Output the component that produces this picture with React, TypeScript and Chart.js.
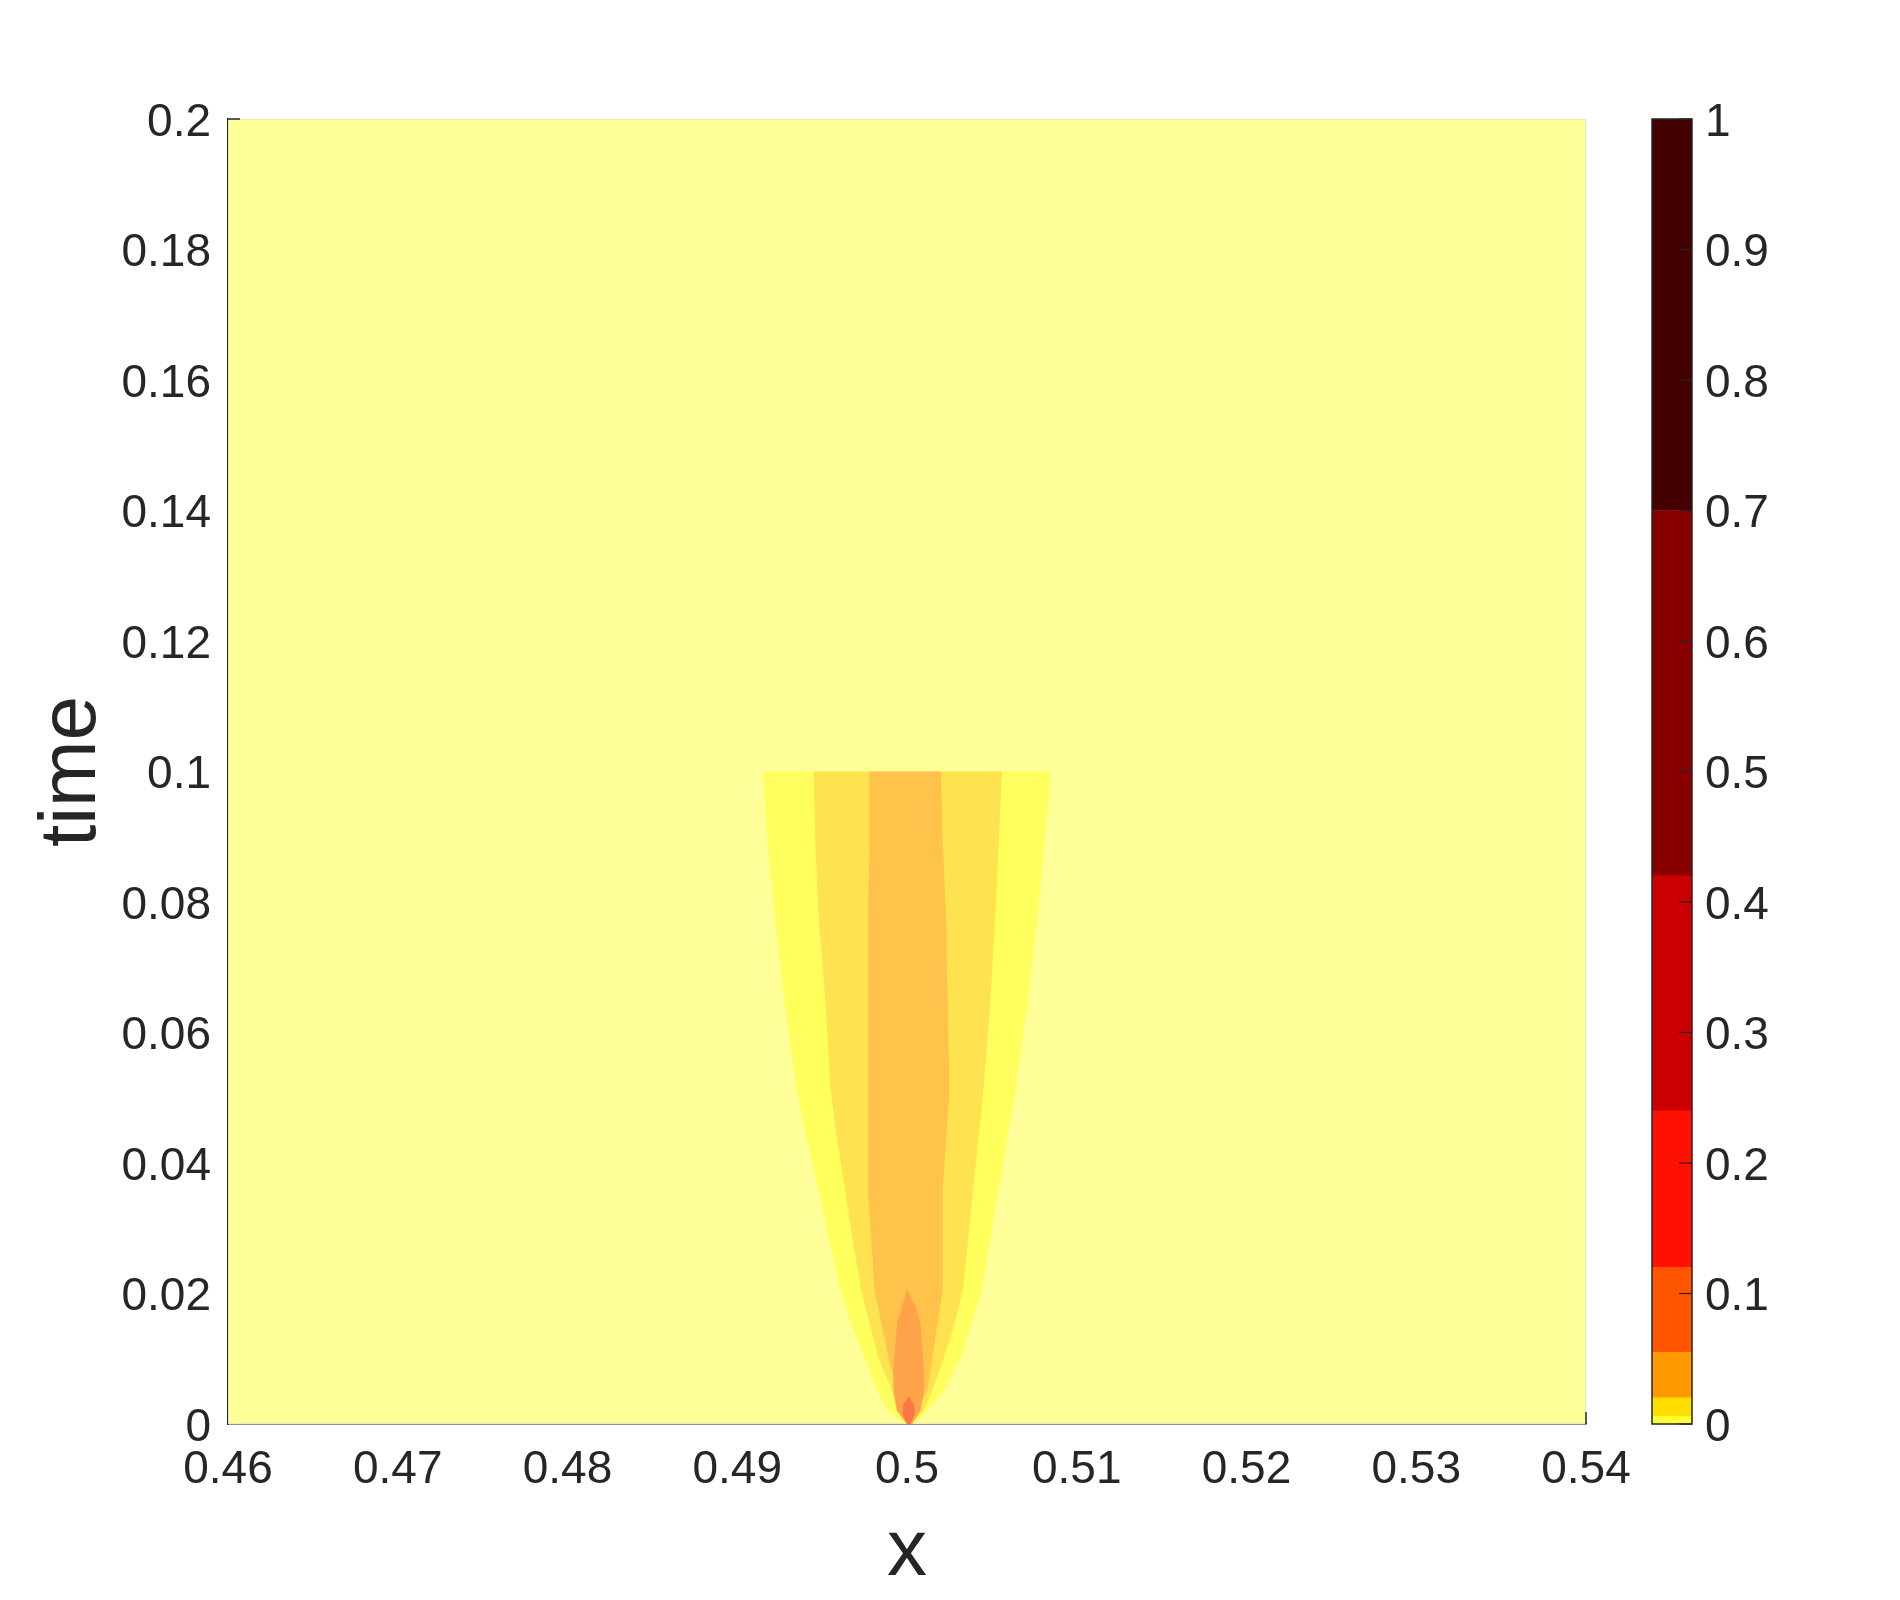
import React, { useEffect, useRef } from 'react';
import { Chart, registerables } from 'chart.js';

Chart.register(...registerables);

// ---------- data ----------
const domainX = [0.46, 0.54];
const domainT = [0, 0.2];

const xTickValues = [0.46, 0.47, 0.48, 0.49, 0.5, 0.51, 0.52, 0.53, 0.54];
const xTickLabels = ['0.46', '0.47', '0.48', '0.49', '0.5', '0.51', '0.52', '0.53', '0.54'];
const yTickValues = [0, 0.02, 0.04, 0.06, 0.08, 0.1, 0.12, 0.14, 0.16, 0.18, 0.2];
const yTickLabels = ['0', '0.02', '0.04', '0.06', '0.08', '0.1', '0.12', '0.14', '0.16', '0.18', '0.2'];

// contour band boundaries (x of left/right edge at each time)
const bandTimes = [0, 0.0006, 0.0021, 0.0052, 0.0103, 0.0154, 0.0205, 0.0282, 0.0359, 0.0435, 0.0512, 0.0645, 0.0778, 0.089, 0.1];

const level1Left = [0.5, 0.4996, 0.4989, 0.4982, 0.4975, 0.4967, 0.4961, 0.4954, 0.4948, 0.4941, 0.4935, 0.4928, 0.4922, 0.4918, 0.4915];
const level1Right = [0.5002, 0.5007, 0.5012, 0.5022, 0.5032, 0.5038, 0.5044, 0.5049, 0.5054, 0.5059, 0.5064, 0.5071, 0.5077, 0.5081, 0.5085];

const level2Left = [0.5, 0.4998, 0.4994, 0.4991, 0.4983, 0.4978, 0.4973, 0.4968, 0.49635, 0.4959, 0.4955, 0.4952, 0.4948, 0.4946, 0.4945];
const level2Right = [0.5001, 0.5004, 0.501, 0.5015, 0.5022, 0.5028, 0.5033, 0.5036, 0.5039, 0.5042, 0.5045, 0.5049, 0.5052, 0.5054, 0.5056];

const level3Left = [0.5, 0.4999, 0.4997, 0.4994, 0.4989, 0.4985, 0.4981, 0.4979, 0.4977, 0.4977, 0.4977, 0.4977, 0.4977, 0.4978, 0.4978];
const level3Right = [0.5001, 0.5003, 0.5006, 0.5012, 0.5015, 0.5018, 0.5021, 0.5021, 0.5021, 0.5023, 0.5025, 0.5024, 0.5023, 0.5021, 0.502];

const level4Times = [0, 0.0021, 0.0052, 0.0083, 0.0115, 0.0154, 0.018, 0.0205];
const level4Left = [0.5, 0.4994, 0.4992, 0.4992, 0.4993, 0.4994, 0.4997, 0.5];
const level4Right = [0.5003, 0.5008, 0.501, 0.501, 0.5009, 0.5008, 0.5005, 0.5];

const level5Times = [0, 0.0015, 0.003, 0.0042];
const level5Left = [0.5, 0.49975, 0.49978, 0.5001];
const level5Right = [0.5002, 0.50045, 0.5004, 0.5001];

const plotColors = ['#ffff99', '#ffff5e', '#ffe24f', '#ffc24a', '#ffa34a', '#ff7447'];

// colorbar
const cbLevels = [0, 0.0056, 0.02, 0.055, 0.12, 0.24, 0.42, 0.7, 1];
const cbColors = ['#ffff33', '#ffdd00', '#ff9900', '#ff5500', '#ff1100', '#cc0000', '#880000', '#440000'];
const cbTickValues = [0, 0.1, 0.2, 0.3, 0.4, 0.5, 0.6, 0.7, 0.8, 0.9, 1];
const cbTickLabels = ['0', '0.1', '0.2', '0.3', '0.4', '0.5', '0.6', '0.7', '0.8', '0.9', '1'];

const xTitle = 'x';
const yTitle = 'time';

// ---------- helpers ----------
const FONT = "'Liberation Sans', Arial, Helvetica, sans-serif";
const TEXT = '#262626';

function polygon(times: number[], left: number[], right: number[]) {
  const pts = times.map((t, i) => ({ x: left[i], y: t }));
  for (let i = times.length - 1; i >= 0; i--) pts.push({ x: right[i], y: times[i] });
  return pts;
}

function shapeDataset(data: { x: number; y: number }[], color: string, order: number, border?: string) {
  return {
    data,
    showLine: true,
    fill: 'shape',
    backgroundColor: color,
    borderColor: border || color,
    borderWidth: border ? 1.2 : 0,
    pointRadius: 0,
    pointHoverRadius: 0,
    tension: 0,
    order,
  };
}

// inward tick marks that show at the plot edges (top-left and bottom-right)
const edgeTicks = {
  id: 'edgeTicks',
  afterDraw(chart: any) {
    const { ctx, chartArea } = chart;
    const xs = chart.scales.x;
    const ys = chart.scales.y;
    ctx.save();
    ctx.strokeStyle = TEXT;
    ctx.lineWidth = 1.5;
    const yTop = ys.getPixelForValue(yTickValues[yTickValues.length - 1]);
    ctx.beginPath();
    ctx.moveTo(chartArea.left, yTop);
    ctx.lineTo(chartArea.left + 12, yTop);
    ctx.stroke();
    const xRight = xs.getPixelForValue(xTickValues[xTickValues.length - 1]);
    ctx.beginPath();
    ctx.moveTo(xRight, chartArea.bottom);
    ctx.lineTo(xRight, chartArea.bottom - 12);
    ctx.stroke();
    ctx.restore();
  },
};

export default function App() {
  const mainRef = useRef<HTMLCanvasElement | null>(null);
  const cbRef = useRef<HTMLCanvasElement | null>(null);

  useEffect(() => {
    const bg = [
      { x: domainX[0], y: domainT[0] },
      { x: domainX[1], y: domainT[0] },
      { x: domainX[1], y: domainT[1] },
      { x: domainX[0], y: domainT[1] },
      { x: domainX[0], y: domainT[0] },
    ];

    const main = new Chart(mainRef.current as HTMLCanvasElement, {
      type: 'scatter',
      data: {
        datasets: [
          shapeDataset(bg, plotColors[0], 10, '#d9d9c8'),
          shapeDataset(polygon(bandTimes, level1Left, level1Right), plotColors[1], 9),
          shapeDataset(polygon(bandTimes, level2Left, level2Right), plotColors[2], 8),
          shapeDataset(polygon(bandTimes, level3Left, level3Right), plotColors[3], 7),
          shapeDataset(polygon(level4Times, level4Left, level4Right), plotColors[4], 6),
          shapeDataset(polygon(level5Times, level5Left, level5Right), plotColors[5], 5),
        ] as any,
      },
      options: {
        animation: false,
        responsive: false,
        devicePixelRatio: 1,
        layout: { padding: { left: 0, top: 119, right: 314, bottom: 0 } },
        plugins: { legend: { display: false }, tooltip: { enabled: false } },
        events: [],
        scales: {
          x: {
            type: 'linear',
            min: domainX[0],
            max: domainX[1],
            z: 1,
            afterBuildTicks: (s: any) => {
              s.ticks = xTickValues.map((v) => ({ value: v }));
            },
            afterFit: (s: any) => {
              s.height = 176;
            },
            ticks: {
              callback: (_v: any, i: number) => xTickLabels[i],
              font: { family: FONT, size: 46 },
              color: TEXT,
              padding: 19,
              maxRotation: 0,
              autoSkip: false,
            },
            grid: { display: false, drawTicks: false },
            border: { display: true, color: TEXT, width: 1.5 },
            title: {
              display: true,
              text: xTitle,
              font: { family: FONT, size: 80, lineHeight: 1.0 },
              color: TEXT,
              padding: { top: 0, bottom: 7 },
            },
          },
          y: {
            type: 'linear',
            min: domainT[0],
            max: domainT[1],
            z: 1,
            afterBuildTicks: (s: any) => {
              s.ticks = yTickValues.map((v) => ({ value: v }));
            },
            afterFit: (s: any) => {
              s.width = 228;
            },
            ticks: {
              callback: (_v: any, i: number) => yTickLabels[i],
              font: { family: FONT, size: 46 },
              color: TEXT,
              padding: 17,
              labelOffset: 4,
              autoSkip: false,
            },
            grid: { display: false, drawTicks: false },
            border: { display: true, color: TEXT, width: 1.5 },
            title: {
              display: true,
              text: yTitle,
              font: { family: FONT, size: 80 },
              color: TEXT,
              padding: { top: 25, bottom: 0 },
            },
          },
        },
      } as any,
      plugins: [edgeTicks],
    });

    const cbOutline = {
      id: 'cbOutline',
      afterDraw(chart: any) {
        const { ctx, chartArea } = chart;
        const ys = chart.scales.y;
        ctx.save();
        ctx.strokeStyle = TEXT;
        ctx.lineWidth = 1.5;
        ctx.strokeRect(chartArea.left, chartArea.top, chartArea.right - chartArea.left, chartArea.bottom - chartArea.top);
        ctx.lineWidth = 1.2;
        ys.ticks.forEach((t: any) => {
          const y = ys.getPixelForValue(t.value);
          ctx.beginPath();
          ctx.moveTo(chartArea.right - 13, y);
          ctx.lineTo(chartArea.right, y);
          ctx.stroke();
        });
        ctx.restore();
      },
    };

    const cb = new Chart(cbRef.current as HTMLCanvasElement, {
      type: 'bar',
      data: {
        labels: ['c'],
        datasets: cbColors.map((c, i) => ({
          data: [[cbLevels[i], cbLevels[i + 1]]],
          backgroundColor: c,
          borderWidth: 0,
          barPercentage: 1,
          categoryPercentage: 1,
          grouped: false,
        })) as any,
      },
      options: {
        animation: false,
        responsive: false,
        devicePixelRatio: 1,
        events: [],
        layout: { padding: { left: 1652, top: 119, right: 0, bottom: 176 } },
        plugins: { legend: { display: false }, tooltip: { enabled: false } },
        scales: {
          x: { display: false },
          y: {
            position: 'right',
            min: 0,
            max: 1,
            afterBuildTicks: (s: any) => {
              s.ticks = cbTickValues.map((v) => ({ value: v }));
            },
            afterFit: (s: any) => {
              s.width = 208;
            },
            ticks: {
              callback: (_v: any, i: number) => cbTickLabels[i],
              font: { family: FONT, size: 46 },
              color: TEXT,
              padding: 13,
              labelOffset: 4,
              autoSkip: false,
            },
            grid: { display: false, drawTicks: false },
            border: { display: false },
          },
        },
      } as any,
      plugins: [cbOutline],
    });

    return () => {
      main.destroy();
      cb.destroy();
    };
  }, []);

  return (
    <div style={{ position: 'absolute', left: 0, top: 0, width: 1900, height: 1600, background: '#ffffff' }}>
      <canvas ref={mainRef} width={1900} height={1600} style={{ position: 'absolute', left: 0, top: 0, width: 1900, height: 1600 }} />
      <canvas ref={cbRef} width={1900} height={1600} style={{ position: 'absolute', left: 0, top: 0, width: 1900, height: 1600 }} />
    </div>
  );
}
